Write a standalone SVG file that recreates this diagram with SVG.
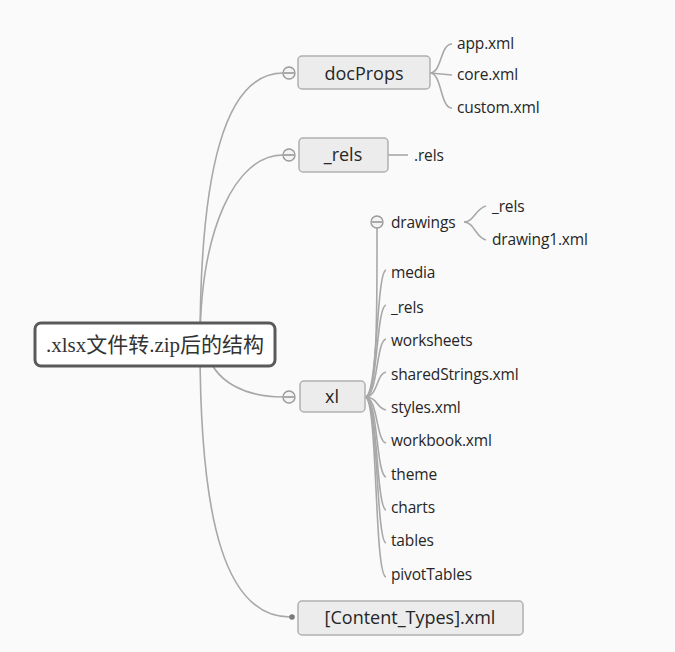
<svg xmlns="http://www.w3.org/2000/svg" width="675" height="652" viewBox="0 0 675 652">
<style>
.bg{fill:#fafafa}
.line{fill:none;stroke:#a8a8a8;stroke-width:1.6}
.box{fill:#ececec;stroke:#b0b0b0;stroke-width:1.5}
.root{fill:#ffffff;stroke:#5a5a5a;stroke-width:3}
.t1{font-family:"Open Sans","Noto Sans",sans-serif;font-size:18px;fill:#262626;text-anchor:middle}
.t2{font-family:"Open Sans","Noto Sans",sans-serif;font-size:15.5px;fill:#262626;letter-spacing:-0.15px}
.rt{font-family:"Liberation Serif","Noto Sans CJK SC",serif;font-size:21px;fill:#333333}
.col{fill:#f4f4f4;stroke:#9a9a9a;stroke-width:1.4}
.minus{stroke:#8a8a8a;stroke-width:1.4}
</style>
<rect class="bg" x="0" y="0" width="675" height="652"/>
<g id="connectors">
  <path class="line" d="M200,345 C200,170 225,73 283,73"/>
  <path class="line" d="M200,345 C200,230 235,155 283,155"/>
  <path class="line" d="M205,345 C212,385 250,397 283,397"/>
  <path class="line" d="M200,345 C200,520 225,617 290,617"/>
  <path class="line" d="M430,73 C442,73 440,44 452,44"/>
  <path class="line" d="M430,73 L452,75"/>
  <path class="line" d="M430,73 C442,73 440,108 452,108"/>
  <path class="line" d="M388,155 L408,155"/>
  <path class="line" d="M464,222 C474,222 476,208 486,206"/>
  <path class="line" d="M464,222 C474,222 476,238 486,240"/>
  <path class="line" d="M365,397 C378,397 377,300 377,228"/>
  <path class="line" d="M365,397 C378,397 376,273 386,270"/>
  <path class="line" d="M365,397 C378,397 376,307 386,305"/>
  <path class="line" d="M365,397 C378,397 376,341 386,339"/>
  <path class="line" d="M365,397 C378,397 376,374 386,372"/>
  <path class="line" d="M365,397 C378,397 376,408 386,410"/>
  <path class="line" d="M365,397 C378,397 376,441 386,443"/>
  <path class="line" d="M365,397 C378,397 376,475 386,477"/>
  <path class="line" d="M365,397 C378,397 376,508 386,510"/>
  <path class="line" d="M365,397 C378,397 376,541 386,543"/>
  <path class="line" d="M365,397 C378,397 374,575 386,577"/>
  <circle cx="292" cy="617" r="2.8" fill="#7a7a7a"/>
</g>
<g id="root">
  <rect class="root" x="35" y="323" width="240" height="43" rx="6"/>
  <text class="rt" x="155" y="352" text-anchor="middle">.xlsx文件转.zip后的结构</text>
</g>
<g id="docProps">
  <circle class="col" cx="289" cy="73" r="6"/><line class="minus" x1="284" y1="73" x2="294" y2="73"/>
  <rect class="box" x="298" y="56" width="132" height="33" rx="4"/>
  <text class="t1" x="364" y="80">docProps</text>
</g>
<g id="app"><text class="t2" x="457" y="49">app.xml</text></g>
<g id="core"><text class="t2" x="457" y="80">core.xml</text></g>
<g id="custom"><text class="t2" x="457" y="113">custom.xml</text></g>
<g id="rels">
  <circle class="col" cx="289" cy="155" r="6"/><line class="minus" x1="284" y1="155" x2="294" y2="155"/>
  <rect class="box" x="299" y="138" width="89" height="34" rx="4"/>
  <text class="t1" x="343" y="161">_rels</text>
</g>
<g id="rels-file"><text class="t2" x="414" y="161">.rels</text></g>
<g id="xl">
  <circle class="col" cx="289" cy="397" r="6"/><line class="minus" x1="284" y1="397" x2="294" y2="397"/>
  <rect class="box" x="300" y="381" width="65" height="31" rx="4"/>
  <text class="t1" x="332" y="403">xl</text>
</g>
<g id="drawings">
  <circle class="col" cx="377" cy="222" r="6"/><line class="minus" x1="372" y1="222" x2="382" y2="222"/>
  <text class="t2" x="391" y="228">drawings</text>
</g>
<g id="drawings-rels"><text class="t2" x="492" y="212">_rels</text></g>
<g id="drawing1"><text class="t2" x="492" y="245">drawing1.xml</text></g>
<g id="media"><text class="t2" x="391" y="278">media</text></g>
<g id="xl-rels"><text class="t2" x="391" y="313">_rels</text></g>
<g id="worksheets"><text class="t2" x="391" y="346">worksheets</text></g>
<g id="sharedStrings"><text class="t2" x="391" y="380">sharedStrings.xml</text></g>
<g id="styles"><text class="t2" x="391" y="413">styles.xml</text></g>
<g id="workbook"><text class="t2" x="391" y="446">workbook.xml</text></g>
<g id="theme"><text class="t2" x="391" y="480">theme</text></g>
<g id="charts"><text class="t2" x="391" y="513">charts</text></g>
<g id="tables"><text class="t2" x="391" y="546">tables</text></g>
<g id="pivotTables"><text class="t2" x="391" y="580">pivotTables</text></g>
<g id="contentTypes">
  <rect class="box" x="298" y="601" width="225" height="34" rx="4"/>
  <text class="t1" x="410" y="624">[Content_Types].xml</text>
</g>
</svg>
